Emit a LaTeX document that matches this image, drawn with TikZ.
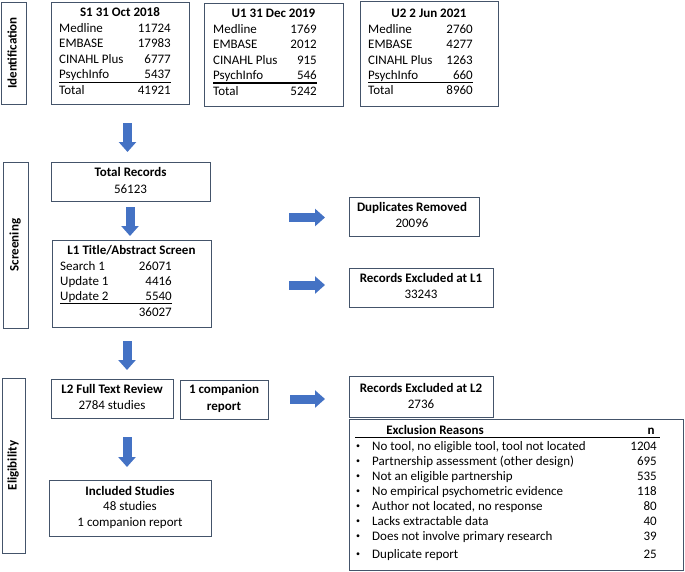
\documentclass[tikz,border=0pt]{standalone}
\usepackage{fontspec}
\setmainfont{Carlito}
\usetikzlibrary{arrows.meta,fit}
\definecolor{boxline}{HTML}{44546A}
\definecolor{arrowblue}{HTML}{4472C4}
\begin{document}
\begin{tikzpicture}[x=1pt,y=-1pt,
  font=\fontsize{13}{15}\selectfont,
  box/.style={draw=boxline, line width=0.9pt, rectangle, inner sep=0pt},
  blk/.style={line width=9pt, draw=arrowblue, -{Triangle[width=17pt,length=10pt]}},
  txt/.style={inner sep=0pt, text height=9.3pt, text depth=3pt},
  lbl/.style={txt, anchor=west},
  num/.style={txt, anchor=east},
  ttl/.style={txt, font=\fontsize{13}{15}\selectfont\bfseries},
  sidelbl/.style={txt, rotate=90, font=\fontsize{13}{15}\selectfont\bfseries},
  bul/.style={inner sep=0pt, font=\fontsize{8}{9}\selectfont},
  rule/.style={line width=1.3pt, draw=black},
]
\useasboundingbox (0,0) rectangle (685,571);

% ---- side boxes
\node[box, fit={(1,2) (26,104)}] (sideI) {};
\node[sidelbl] (sideIt) at (sideI.center) {Identification};
\node[box, fit={(3,162) (28,328)}] (sideS) {};
\node[sidelbl] (sideSt) at (sideS.center) {Screening};
\node[box, fit={(2,378) (25,553)}] (sideE) {};
\node[sidelbl] (sideEt) at (sideE.center) {Eligibility};

% ---- S1
\node[box, fit={(51,2) (189,104)}] (s1) {};
\node[ttl] (s1t) at (120,13) {S1 31 Oct 2018};
\node[lbl] (s1a) at (59,29) {Medline};      \node[num] (s1an) at (171,29) {11724};
\node[lbl] (s1b) at (59,44.5) {EMBASE};     \node[num] (s1bn) at (171,44.5) {17983};
\node[lbl] (s1c) at (59,60) {CINAHL Plus};  \node[num] (s1cn) at (171,60) {6777};
\node[lbl] (s1d) at (59,75.5) {PsychInfo};  \node[num] (s1dn) at (171,75.5) {5437};
\node[lbl] (s1e) at (59,91) {Total};        \node[num] (s1en) at (171,91) {41921};
\coordinate (s1r1) at (59,82.5); \coordinate (s1r2) at (171,82.5);
\draw[rule] (s1r1) -- (s1r2);

% ---- U1
\node[box, fit={(204,3) (343,106)}] (u1) {};
\node[ttl] (u1t) at (273.5,14) {U1 31 Dec 2019};
\node[lbl] (u1a) at (213,30) {Medline};      \node[num] (u1an) at (317,30) {1769};
\node[lbl] (u1b) at (213,45) {EMBASE};       \node[num] (u1bn) at (317,45) {2012};
\node[lbl] (u1c) at (213,61) {CINAHL Plus};  \node[num] (u1cn) at (317,61) {915};
\node[lbl] (u1d) at (213,76) {PsychInfo};    \node[num] (u1dn) at (317,76) {546};
\node[lbl] (u1e) at (213,92) {Total};        \node[num] (u1en) at (317,92) {5242};
\coordinate (u1r1) at (213,83); \coordinate (u1r2) at (317,83);
\draw[rule] (u1r1) -- (u1r2);

% ---- U2
\node[box, fit={(360,1) (498,106)}] (u2) {};
\node[ttl] (u2t) at (429,14) {U2 2 Jun 2021};
\node[lbl] (u2a) at (368,30) {Medline};      \node[num] (u2an) at (473,30) {2760};
\node[lbl] (u2b) at (368,45) {EMBASE};       \node[num] (u2bn) at (473,45) {4277};
\node[lbl] (u2c) at (368,61) {CINAHL Plus};  \node[num] (u2cn) at (473,61) {1263};
\node[lbl] (u2d) at (368,76) {PsychInfo};    \node[num] (u2dn) at (473,76) {660};
\node[lbl] (u2e) at (368,91) {Total};        \node[num] (u2en) at (473,91) {8960};
\coordinate (u2r1) at (368,82.5); \coordinate (u2r2) at (473,82.5);
\draw[rule] (u2r1) -- (u2r2);

% ---- Total records
\node[box, fit={(51,162) (210,201)}] (tot) {};
\node[ttl] (tott) at (130.5,173) {Total Records};
\node[txt] (totn) at (130.5,190) {56123};

% ---- L1
\node[box, fit={(52,240) (211,327)}] (l1) {};
\node[ttl] (l1t) at (131.5,251) {L1 Title/Abstract Screen};
\node[lbl] (l1a) at (60,267) {Search 1};  \node[num] (l1an) at (172,267) {26071};
\node[lbl] (l1b) at (60,282) {Update 1};  \node[num] (l1bn) at (172,282) {4416};
\node[lbl] (l1c) at (60,297) {Update 2};  \node[num] (l1cn) at (172,297) {5540};
\node[num] (l1dn) at (172,313) {36027};
\coordinate (l1r1) at (60,303.5); \coordinate (l1r2) at (172,303.5);
\draw[rule] (l1r1) -- (l1r2);

% ---- Duplicates / Excluded L1
\node[box, fit={(349,197) (479,236)}] (dup) {};
\node[ttl] (dupt) at (412,208) {Duplicates Removed};
\node[txt] (dupn) at (412,224) {20096};
\node[box, fit={(349,268) (493,307)}] (ex1) {};
\node[ttl] (ex1t) at (421,279) {Records Excluded at L1};
\node[txt] (ex1n) at (421,295) {33243};

% ---- L2
\node[box, fit={(51,379) (173,418)}] (l2) {};
\node[ttl] (l2t) at (112,390) {L2 Full Text Review};
\node[txt] (l2n) at (112,406) {2784 studies};
\node[box, fit={(180,380) (268,419)}] (comp) {};
\node[ttl] (compt) at (224,390) {1 companion};
\node[ttl] (compn) at (224,407) {report};

% ---- Included
\node[box, fit={(49,480) (211,536)}] (inc) {};
\node[ttl] (inct) at (130,492) {Included Studies};
\node[txt] (inca) at (130,507.5) {48 studies};
\node[txt] (incb) at (130,523) {1 companion report};

% ---- Excluded L2
\node[box, fit={(349,376) (493,417)}] (ex2) {};
\node[ttl] (ex2t) at (421,389) {Records Excluded at L2};
\node[txt] (ex2n) at (421,405) {2736};

% ---- Exclusion reasons
\node[box, fit={(349,419) (683,570)}] (rea) {};
\node[ttl] (reat) at (435,431) {Exclusion Reasons};
\node[ttl] (rean) at (651,431) {n};
\coordinate (rear1) at (355,437.5); \coordinate (rear2) at (660,437.5);
\draw[rule, line width=1.1pt] (rear1) -- (rear2);
\foreach \i/\t/\n [count=\k] in {
  447/{No tool, no eligible tool, tool not located}/1204,
  462/{Partnership assessment (other design)}/695,
  477/{Not an eligible partnership}/535,
  492/{No empirical psychometric evidence}/118,
  507/{Author not located, no response}/80,
  522/{Lacks extractable data}/40,
  537/{Does not involve primary research}/39,
  555/{Duplicate report}/25}{
  \node[bul] (rb\k) at (358,\i) {\textbullet};
  \node[lbl] (rt\k) at (372,\i) {\t};
  \node[num] (rn\k) at (657,\i) {\n};
}

% ---- block arrows
\coordinate (a1s) at (127.5,123); \coordinate (a1e) at (127.5,152);
\coordinate (a2s) at (130,207); \coordinate (a2e) at (130,236);
\coordinate (a3s) at (127,341); \coordinate (a3e) at (127,370);
\coordinate (a4s) at (127,437); \coordinate (a4e) at (127,467);
\coordinate (b1s) at (289,217.5); \coordinate (b1e) at (325,217.5);
\coordinate (b2s) at (289,285); \coordinate (b2e) at (325,285);
\coordinate (b3s) at (290,399); \coordinate (b3e) at (325,399);
\foreach \p in {a1,a2,a3,a4,b1,b2,b3}{
  \draw[blk] (\p s) -- (\p e);
}
\end{tikzpicture}
\end{document}
